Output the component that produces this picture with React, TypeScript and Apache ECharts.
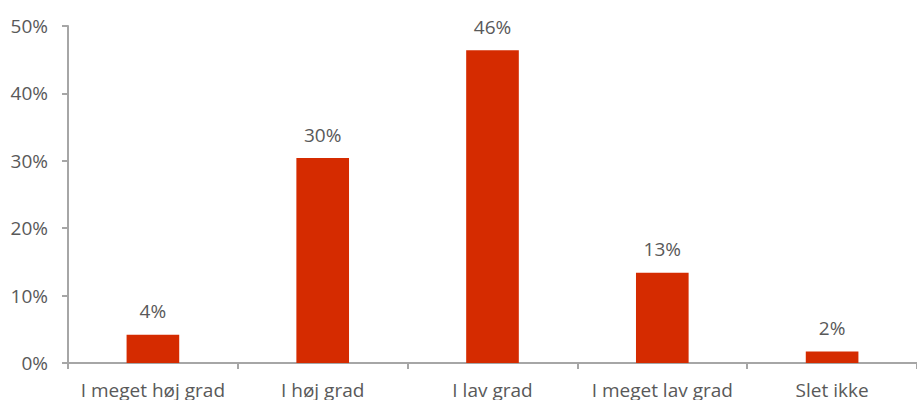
import React, { useEffect, useRef } from "react";
import * as echarts from "echarts";

const categories = ["I meget høj grad", "I høj grad", "I lav grad", "I meget lav grad", "Slet ikke"];
const values = [4.2, 30.4, 46.4, 13.4, 1.7];
const valueLabels = ["4%", "30%", "46%", "13%", "2%"];

export default function App() {
  const ref = useRef<HTMLDivElement>(null);
  useEffect(() => {
    if (!ref.current) return;
    const chart = echarts.init(ref.current, undefined, { renderer: "svg" });
    const font = "'Open Sans', 'Noto Sans', sans-serif";
    chart.setOption({
      animation: false,
      grid: { left: 68, top: 26, width: 855, height: 337 },
      xAxis: {
        type: "category",
        data: categories,
        axisLine: { lineStyle: { color: "#A6A6A6", width: 2 } },
        axisTick: { show: true, length: 6, lineStyle: { color: "#A6A6A6", width: 2 } },
        axisLabel: { color: "#595959", fontSize: 19, fontFamily: font, margin: 17, interval: 0 },
      },
      yAxis: {
        type: "value",
        min: 0,
        max: 50,
        interval: 10,
        axisLine: { show: true, lineStyle: { color: "#A6A6A6", width: 2 } },
        axisTick: { show: true, length: 6, lineStyle: { color: "#A6A6A6", width: 2 } },
        splitLine: { show: false },
        axisLabel: { color: "#595959", fontSize: 19, fontFamily: font, margin: 20, formatter: "{value}%" },
      },
      series: [
        {
          type: "bar",
          data: values,
          barWidth: "31%",
          itemStyle: { color: "#D52B00" },
          label: {
            show: true,
            position: "top",
            distance: 14,
            color: "#595959",
            fontSize: 19,
            fontFamily: font,
            formatter: (p: any) => valueLabels[p.dataIndex],
          },
        },
      ],
    });
    return () => chart.dispose();
  }, []);
  return <div ref={ref} style={{ width: 917, height: 400, position: "absolute", left: 0, top: 0 }} />;
}
